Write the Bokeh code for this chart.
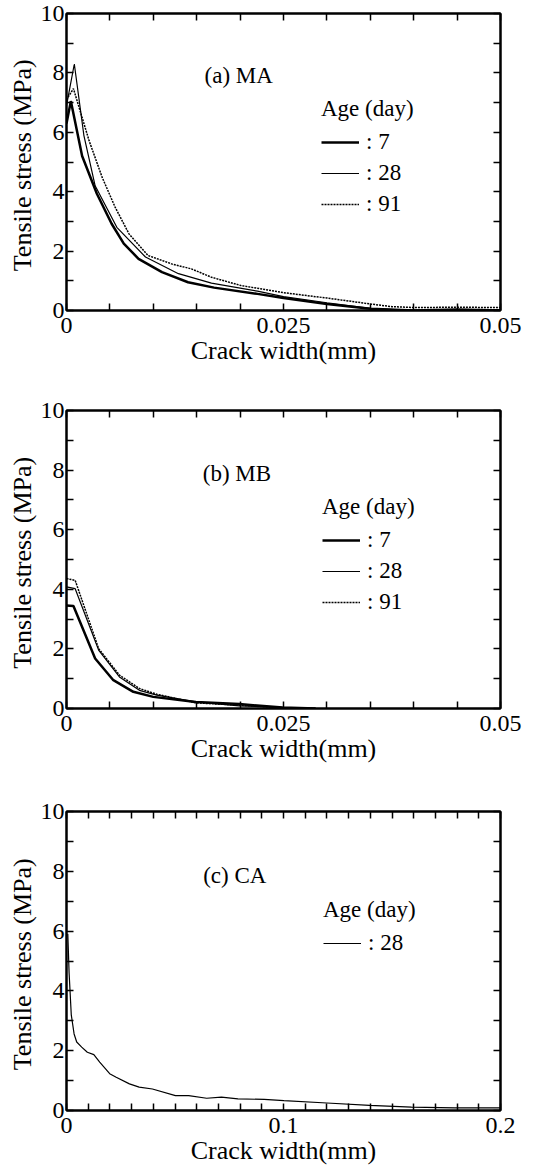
from bokeh.plotting import figure
from bokeh.models import FixedTicker, LinearAxis, Range1d, Legend, LegendItem, Label
from bokeh.layouts import column
from bokeh.embed import file_html
from bokeh.resources import INLINE

FONT = "Liberation Serif"

# ---------------- data ----------------
# (a) MA
ma_w7 = [0, 0.0005, 0.0018, 0.0035, 0.0052, 0.0066, 0.0083, 0.011, 0.014, 0.017, 0.022, 0.025, 0.030, 0.035, 0.040, 0.045, 0.050]
ma_s7 = [6.3, 7.05, 5.2, 3.93, 2.92, 2.25, 1.74, 1.29, 0.95, 0.77, 0.56, 0.42, 0.22, 0.06, 0.0, 0.03, 0.0]
ma_w28 = [0, 0.0009, 0.002, 0.0033, 0.0058, 0.0091, 0.0129, 0.0167, 0.022, 0.025, 0.030, 0.035, 0.040, 0.045, 0.050]
ma_s28 = [6.9, 8.3, 5.9, 4.2, 2.8, 1.8, 1.24, 0.92, 0.65, 0.47, 0.26, 0.07, 0.0, 0.03, 0.03]
ma_w91 = [0, 0.0008, 0.0026, 0.0041, 0.0056, 0.0072, 0.0094, 0.0121, 0.0144, 0.0167, 0.0201, 0.025, 0.030, 0.035, 0.0375, 0.040, 0.045, 0.050]
ma_s91 = [7.1, 7.47, 5.72, 4.49, 3.48, 2.58, 1.85, 1.57, 1.40, 1.12, 0.84, 0.60, 0.42, 0.22, 0.13, 0.10, 0.11, 0.10]

# (b) MB
mb_w7 = [0, 0.0008, 0.0033, 0.0054, 0.0077, 0.0100, 0.0149, 0.0199, 0.0249, 0.0287]
mb_s7 = [3.46, 3.44, 1.68, 0.95, 0.56, 0.39, 0.22, 0.15, 0.03, 0.0]
mb_w28 = [0, 0.001, 0.0037, 0.0061, 0.0084, 0.0104, 0.0149, 0.0199, 0.025, 0.0287]
mb_s28 = [4.08, 4.02, 1.96, 1.06, 0.61, 0.45, 0.22, 0.09, 0.03, 0.0]
mb_w91 = [0, 0.001, 0.0037, 0.0061, 0.0084, 0.0104, 0.0149, 0.0199, 0.025, 0.0287]
mb_s91 = [4.36, 4.30, 2.01, 1.12, 0.67, 0.48, 0.19, 0.11, 0.02, 0.0]

# (c) CA
ca_w28 = [0.0006, 0.0012, 0.0022, 0.0035, 0.0047, 0.007, 0.0096, 0.0126, 0.0153, 0.0199, 0.0229, 0.029,
          0.0335, 0.0396, 0.0502, 0.0563, 0.0646, 0.0714, 0.079, 0.0911, 0.1002, 0.12, 0.1397, 0.159, 0.179, 0.2]
ca_s28 = [5.91, 4.6, 3.2, 2.56, 2.29, 2.12, 1.95, 1.87, 1.62, 1.23, 1.11, 0.89,
          0.78, 0.72, 0.50, 0.50, 0.41, 0.45, 0.39, 0.37, 0.33, 0.25, 0.17, 0.11, 0.09, 0.09]

# ticks
y_major = [0, 2, 4, 6, 8, 10]
y_minor = [1, 3, 5, 7, 9]
y_labels = ["0", "2", "4", "6", "8", "10"]
x_major_ab = [0, 0.025, 0.05]
x_minor_ab = [0.005, 0.01, 0.015, 0.02, 0.03, 0.035, 0.04, 0.045]
x_labels_ab = ["0", "0.025", "0.05"]
x_major_c = [0, 0.1, 0.2]
x_minor_c = [0.01, 0.02, 0.03, 0.04, 0.05, 0.06, 0.07, 0.08, 0.09,
             0.11, 0.12, 0.13, 0.14, 0.15, 0.16, 0.17, 0.18, 0.19]
x_labels_c = ["0", "0.1", "0.2"]

ages_ab = [": 7", ": 28", ": 91"]
ages_c = [": 28"]

TICK_FS = "24px"
LABEL_FS = "26px"
ANN_FS = "23px"


def style_axis(ax, labels_visible):
    ax.axis_line_width = 2
    ax.axis_line_color = "black"
    ax.major_tick_in = 7
    ax.major_tick_out = 0
    ax.minor_tick_in = 7
    ax.minor_tick_out = 0
    ax.major_tick_line_width = 1.5
    ax.minor_tick_line_width = 1.5
    ax.major_tick_line_color = "black"
    ax.minor_tick_line_color = "black"
    ax.major_label_text_font = FONT
    if labels_visible:
        ax.major_label_text_color = "black"
        ax.major_label_text_font_size = TICK_FS
    else:
        ax.major_label_text_color = None
        ax.major_label_text_font_size = "1px"
        ax.major_label_standoff = 0


def make_panel(height, borders, xmax, xmaj, xmin, xlabs, series, tag, tag_pos, leg_loc):
    top, bottom, left, right = borders
    p = figure(width=538, height=height, output_backend="svg", toolbar_location=None,
               x_range=Range1d(0, xmax), y_range=Range1d(0, 10),
               min_border_top=top, min_border_bottom=bottom,
               min_border_left=left, min_border_right=right,
               x_axis_label="Crack width(mm)", y_axis_label="Tensile stress  (MPa)")
    p.grid.visible = False
    p.outline_line_color = "black"
    p.outline_line_width = 2
    p.background_fill_color = "white"
    p.border_fill_color = "white"

    xa = p.xaxis[0]
    xa.ticker = FixedTicker(ticks=xmaj, minor_ticks=xmin)
    xa.major_label_overrides = {v: s for v, s in zip(xmaj, xlabs)}
    style_axis(xa, True)
    xa.major_label_standoff = 7
    xa.axis_label_standoff = 0
    xa.axis_label_text_font = FONT
    xa.axis_label_text_font_size = LABEL_FS
    xa.axis_label_text_font_style = "normal"
    xa.axis_label_text_color = "black"

    ya = p.yaxis[0]
    ya.ticker = FixedTicker(ticks=y_major, minor_ticks=y_minor)
    ya.major_label_overrides = {v: s for v, s in zip(y_major, y_labels)}
    style_axis(ya, True)
    ya.major_label_standoff = 2
    ya.axis_label_standoff = 1
    ya.axis_label_text_font = FONT
    ya.axis_label_text_font_size = LABEL_FS
    ya.axis_label_text_font_style = "normal"
    ya.axis_label_text_color = "black"

    ta = LinearAxis(ticker=FixedTicker(ticks=xmaj, minor_ticks=xmin))
    style_axis(ta, False)
    p.add_layout(ta, "above")
    ra = LinearAxis(ticker=FixedTicker(ticks=y_major, minor_ticks=y_minor))
    style_axis(ra, False)
    p.add_layout(ra, "right")

    items = []
    for (xs, ys, lw, dash, lab) in series:
        r = p.line(xs, ys, line_color="black", line_width=lw, line_dash=dash)
        items.append(LegendItem(label=lab, renderers=[r]))

    p.add_layout(Label(x=tag_pos[0], y=tag_pos[1], text=tag, text_font=FONT,
                       text_font_size=ANN_FS, text_color="black",
                       text_baseline="alphabetic"))

    leg = Legend(items=items, title="Age (day)", location=leg_loc,
                 border_line_color=None, background_fill_alpha=0,
                 label_text_font=FONT, label_text_font_size=ANN_FS,
                 label_text_color="black",
                 title_text_font=FONT, title_text_font_size=ANN_FS,
                 title_text_font_style="normal", title_text_color="black",
                 title_standoff=5,
                 glyph_width=38, glyph_height=30, label_height=30,
                 label_standoff=7, spacing=1, padding=0, margin=0)
    p.add_layout(leg)
    return p


pa = make_panel(390, (13, 80, 64, 38), 0.05, x_major_ab, x_minor_ab, x_labels_ab,
                [(ma_w7, ma_s7, 2.5, "solid", ages_ab[0]),
                 (ma_w28, ma_s28, 1.2, "solid", ages_ab[1]),
                 (ma_w91, ma_s91, 1.5, "2 1", ages_ab[2])],
                "(a) MA", (0.0159, 7.91), (255, 91))

pb = make_panel(390, (20, 72, 66, 35), 0.05, x_major_ab, x_minor_ab, x_labels_ab,
                [(mb_w7, mb_s7, 2.5, "solid", ages_ab[0]),
                 (mb_w28, mb_s28, 1.2, "solid", ages_ab[1]),
                 (mb_w91, mb_s91, 1.5, "2 1", ages_ab[2])],
                "(b) MB", (0.0157, 7.89), (256, 91))

pc = make_panel(390, (31, 60, 66, 32), 0.2, x_major_c, x_minor_c, x_labels_c,
                [(ca_w28, ca_s28, 1.2, "solid", ages_c[0])],
                "(c) CA", (0.063, 7.86), (257, 152))

layout = column(pa, pb, pc, spacing=0)
open("out.html", "w").write(file_html(layout, INLINE))
